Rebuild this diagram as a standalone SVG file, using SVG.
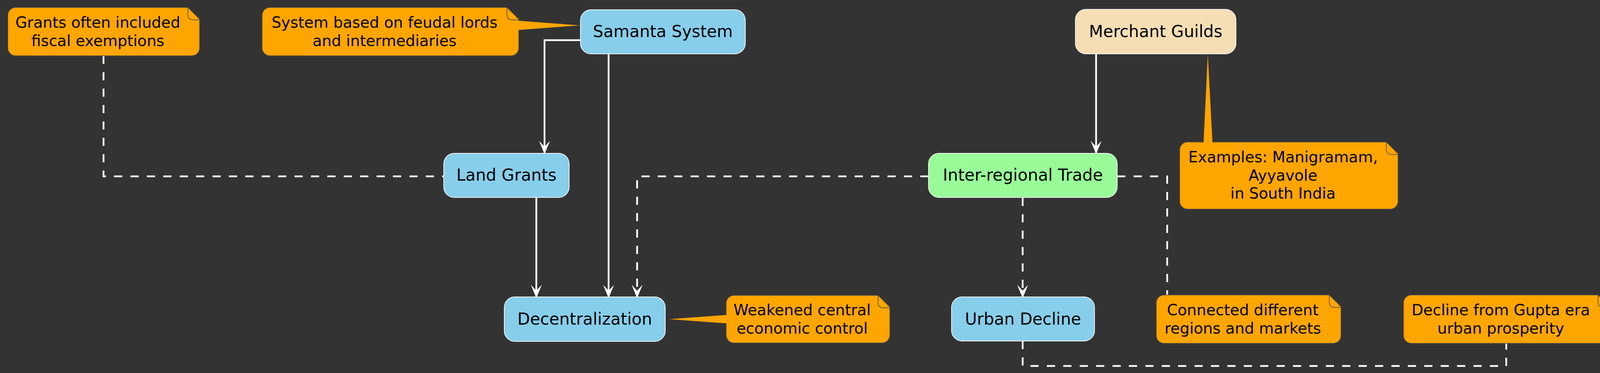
<svg xmlns="http://www.w3.org/2000/svg" width="4156" height="956" viewBox="0 0 4156 956">
<style>
.box{stroke:#F0F0F0;stroke-width:2}
.bt{font-family:"DejaVu Sans",Verdana,sans-serif;font-size:42px;fill:#000;text-anchor:middle}
.nt{font-family:"DejaVu Sans",Verdana,sans-serif;font-size:39px;fill:#000;text-anchor:middle}
.note{fill:#FFA500;stroke:#4A4A4A;stroke-width:1.5}
.fold{fill:none;stroke:#4A4A4A;stroke-width:1.5}
.ptr{fill:#FFA500;stroke:none}
.ln{fill:none;stroke:#FFFFFF;stroke-width:4.5}
.dl{fill:none;stroke:#FFFFFF;stroke-width:4.5;stroke-dasharray:21 21}
</style>
<defs>
<marker id="ah" markerUnits="userSpaceOnUse" viewBox="-36 -16 38 32" refX="0" refY="0" markerWidth="38" markerHeight="32" orient="auto" overflow="visible">
<path d="M0,0 L-34,-14 L-19,0 L-34,14 Z" fill="#FFFFFF"/>
</marker>
</defs>
<rect x="0" y="0" width="4156" height="956" fill="#333333"/>

<g id="connectors">
<path class="ln" d="M1486,103 H1394 V395" marker-end="url(#ah)"/>
<path class="ln" d="M1558,138 V764" marker-end="url(#ah)"/>
<path class="ln" d="M1373,506 V764" marker-end="url(#ah)"/>
<path class="dl" d="M2377,452 H1631 V764" marker-end="url(#ah)"/>
<path class="ln" d="M2806,138 V395" marker-end="url(#ah)"/>
<path class="dl" d="M2618,507 V764" marker-end="url(#ah)"/>
<path class="dl" d="M265,143 V452 H1136"/>
<path class="dl" d="M2860,452 H2988 V756"/>
<path class="dl" d="M2618,874 V938 H3856 V880"/>
</g>

<g id="samanta">
<rect class="box" x="1486" y="25" width="422" height="113" rx="27" fill="#87CEEB"/>
<text class="bt" x="1697" y="95">Samanta System</text>
</g>
<g id="landgrants">
<rect class="box" x="1136" y="393" width="321" height="113" rx="27" fill="#87CEEB"/>
<text class="bt" x="1296.5" y="463">Land Grants</text>
</g>
<g id="merchant">
<rect class="box" x="2753" y="24" width="411" height="114" rx="27" fill="#F5DEB3"/>
<text class="bt" x="2958.5" y="95">Merchant Guilds</text>
</g>
<g id="trade">
<rect class="box" x="2377" y="393" width="483" height="113" rx="27" fill="#98FB98"/>
<text class="bt" x="2618.5" y="463">Inter-regional Trade</text>
</g>
<g id="decentralization">
<rect class="box" x="1291" y="761" width="412" height="114" rx="27" fill="#87CEEB"/>
<text class="bt" x="1497" y="832">Decentralization</text>
</g>
<g id="urban">
<rect class="box" x="2436" y="761" width="366" height="113" rx="27" fill="#87CEEB"/>
<text class="bt" x="2619" y="832">Urban Decline</text>
</g>

<g id="note-grants">
<path class="note" d="M40,19 H481 L511,49 V123 A20,20 0 0 1 491,143 H40 A20,20 0 0 1 20,123 V39 A20,20 0 0 1 40,19 Z"/>
<path class="fold" d="M481,19 V38 Q481,51 495,51 H511"/>
<text class="nt" x="250.5" y="71">Grants often included</text>
<text class="nt" x="250.5" y="117.5">fiscal exemptions</text>
</g>
<g id="note-system">
<path class="note" d="M691,19 H1298 L1328,49 V123 A20,20 0 0 1 1308,143 H691 A20,20 0 0 1 671,123 V39 A20,20 0 0 1 691,19 Z"/>
<path class="fold" d="M1298,19 V38 Q1298,51 1312,51 H1328"/>
<polygon class="ptr" points="1325,53 1484,65 1325,77"/>
<text class="nt" x="984.5" y="71">System based on feudal lords</text>
<text class="nt" x="984.5" y="117.5">and intermediaries</text>
</g>
<g id="note-weakened">
<path class="note" d="M1879,757 H2248 L2278,787 V859 A20,20 0 0 1 2258,879 H1879 A20,20 0 0 1 1859,859 V777 A20,20 0 0 1 1879,757 Z"/>
<path class="fold" d="M2248,757 V776 Q2248,789 2262,789 H2278"/>
<polygon class="ptr" points="1862,807 1713,818 1862,829"/>
<text class="nt" x="2053.5" y="808">Weakened central</text>
<text class="nt" x="2053.5" y="854.5">economic control</text>
</g>
<g id="note-examples">
<path class="note" d="M3040,364 H3549 L3579,394 V516 A20,20 0 0 1 3559,536 H3040 A20,20 0 0 1 3020,516 V384 A20,20 0 0 1 3040,364 Z"/>
<path class="fold" d="M3549,364 V383 Q3549,396 3563,396 H3579"/>
<polygon class="ptr" points="3081,367 3092,139 3104,367"/>
<text class="nt" x="3284.5" y="416">Examples: Manigramam,</text>
<text class="nt" x="3284.5" y="462.5">Ayyavole</text>
<text class="nt" x="3284.5" y="509">in South India</text>
</g>
<g id="note-connected">
<path class="note" d="M2980,756 H3403 L3433,786 V860 A20,20 0 0 1 3413,880 H2980 A20,20 0 0 1 2960,860 V776 A20,20 0 0 1 2980,756 Z"/>
<path class="fold" d="M3403,756 V775 Q3403,788 3417,788 H3433"/>
<text class="nt" x="3181.5" y="808">Connected different</text>
<text class="nt" x="3181.5" y="854.5">regions and markets</text>
</g>
<g id="note-decline">
<path class="note" d="M3613,756 H4091 L4121,786 V860 A20,20 0 0 1 4101,880 H3613 A20,20 0 0 1 3593,860 V776 A20,20 0 0 1 3613,756 Z"/>
<path class="fold" d="M4091,756 V775 Q4091,788 4105,788 H4121"/>
<text class="nt" x="3842" y="808">Decline from Gupta era</text>
<text class="nt" x="3842" y="854.5">urban prosperity</text>
</g>
</svg>
